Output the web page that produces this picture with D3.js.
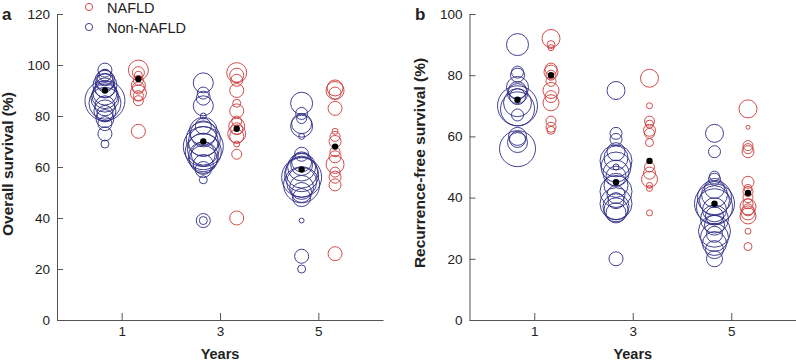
<!DOCTYPE html>
<html>
<head>
<meta charset="utf-8">
<script src="https://cdn.jsdelivr.net/npm/d3@7"></script>
<style>
  body { margin: 0; background: #fff; }
  svg { display: block; font-family: "Liberation Sans", Arial, sans-serif; }
  .tick text { font-size: 13.5px; fill: #222; }
  .axis-title { font-weight: bold; fill: #222; }
</style>
</head>
<body>
<div id="chart"></div>
<script>
// Bubble plots of survival by follow-up year, NAFLD vs non-NAFLD studies

const years = [1, 3, 5];
const osTicks = [0, 20, 40, 60, 80, 100, 120];
const rfsTicks = [0, 20, 40, 60, 80, 100];

// Overall survival (%) per study, one list per year; sizes are study n
const osNonVals = [
  [98, 96, 95, 94, 93, 92, 91, 89, 88, 87, 86, 85, 84, 82, 81, 79, 77, 73, 69],
  [93, 89, 87, 84, 80, 76, 74, 73, 71, 70, 68, 67, 66, 65, 64, 63, 61, 59, 55, 39, 39],
  [85, 81, 79, 77, 76, 72, 65, 62, 61, 60, 58, 57, 56, 54, 53, 52, 50, 48, 39, 25, 20]
];
const osNonN = [
  [49, 36, 64, 100, 81, 144, 100, 144, 169, 196, 400, 256, 100, 121, 64, 81, 49, 49, 16],
  [100, 36, 49, 100, 9, 64, 196, 169, 289, 225, 400, 256, 324, 144, 225, 196, 100, 64, 16, 49, 16],
  [121, 36, 25, 100, 121, 9, 49, 100, 121, 196, 256, 289, 400, 225, 324, 144, 100, 81, 6, 49, 16]
];
const osNafVals = [
  [98, 97, 96, 94, 92, 91, 89, 88, 86, 74],
  [97, 96, 94, 90, 85, 82, 78, 76, 75, 73, 72, 69, 65, 40],
  [91, 90, 89, 83, 74, 72, 70, 66, 64, 61, 58, 56, 53, 26]
];
const osNafN = [
  [100, 36, 16, 25, 49, 36, 64, 25, 25, 49],
  [100, 49, 36, 49, 16, 49, 25, 64, 36, 81, 49, 9, 25, 49],
  [64, 81, 36, 49, 9, 25, 36, 25, 36, 81, 25, 36, 36, 49]
];
const osNonMean = [90, 70, 59];
const osNafMean = [94.5, 75, 68];

// Recurrence-free survival (%)
const rfsNonVals = [
  [90, 81, 80, 76, 75, 74, 73, 71, 70, 69, 67, 60, 59, 58, 56],
  [75, 61, 59, 55, 53, 52, 50, 50, 48, 47, 44, 42, 41, 39, 38, 37, 36, 35, 20],
  [61, 55, 47, 46, 43, 41, 40, 39, 38, 37, 36, 34, 33, 31, 29, 28, 27, 25, 23, 20]
];
const rfsNonN = [
  [121, 36, 49, 121, 81, 100, 64, 196, 400, 289, 36, 81, 64, 100, 324],
  [81, 36, 36, 81, 144, 256, 225, 9, 169, 100, 144, 256, 81, 64, 256, 169, 144, 100, 49],
  [81, 36, 25, 36, 100, 169, 289, 225, 400, 324, 144, 81, 196, 100, 256, 64, 196, 144, 81, 64]
];
const rfsNafVals = [
  [92, 90, 89, 82, 81, 80, 78, 75, 73, 71, 65, 63, 62],
  [79, 70, 65, 64, 62, 61, 58, 50, 48, 46, 44, 43, 35],
  [69, 63, 57, 56, 55, 45, 43, 42, 40, 38, 37, 36, 35, 34, 29, 24]
];
const rfsNafN = [
  [81, 16, 9, 36, 49, 25, 25, 64, 36, 64, 25, 25, 16],
  [81, 9, 25, 16, 36, 25, 16, 25, 36, 64, 9, 9, 9],
  [81, 4, 25, 25, 36, 36, 16, 25, 25, 25, 64, 36, 49, 64, 9, 16]
];
const rfsNonMean = [72, 45, 38];
const rfsNafMean = [80, 52, 41.5];

const legendLabels = ["NAFLD", "Non-NAFLD"];

const colNaf = "#cc3a3a";
const colNon = "#2e2b86";

const W = 796, H = 361;
const svg = d3.select("#chart").append("svg").attr("width", W).attr("height", H);

const rScale = d3.scaleSqrt().domain([0, 400]).range([0, 20]);

function drawPanel(opts) {
  const g = svg.append("g");
  const x = d3.scaleLinear().domain([-0.315, 6.315]).range([opts.left, opts.right]);
  const y = d3.scaleLinear().domain([0, opts.ymax]).range([320, 14]);
  const off = 0.34; // group offset in years

  // bubbles
  const groups = [
    {vals: opts.nonVals, n: opts.nonN, mean: opts.nonMean, dx: -off, col: colNon},
    {vals: opts.nafVals, n: opts.nafN, mean: opts.nafMean, dx: off, col: colNaf}
  ];
  groups.forEach(grp => {
    years.forEach((yr, i) => {
      const pts = grp.vals[i].map((v, j) => ({v: v, n: grp.n[i][j]}));
      g.selectAll(null).data(pts).enter().append("circle")
        .attr("cx", x(yr + grp.dx))
        .attr("cy", d => y(d.v))
        .attr("r", d => rScale(d.n))
        .attr("fill", "none")
        .attr("stroke", grp.col)
        .attr("stroke-width", 0.9);
    });
    g.selectAll(null).data(years).enter().append("circle")
      .attr("cx", d => x(d + grp.dx))
      .attr("cy", (d, i) => y(grp.mean[i]))
      .attr("r", 3.2)
      .attr("fill", "#000");
  });

  // axes
  const yAxis = g.append("g").attr("transform", `translate(${opts.left},0)`)
    .call(d3.axisLeft(y).tickValues(opts.ticks).tickSizeInner(-6).tickSizeOuter(0).tickPadding(7));
  const xAxis = g.append("g").attr("transform", "translate(0,320)")
    .call(d3.axisBottom(x).tickValues(years).tickFormat(d3.format("d"))
      .tickSizeInner(-7).tickSizeOuter(0).tickPadding(6));
  [yAxis, xAxis].forEach(a => {
    a.select(".domain").attr("stroke", "#555").attr("stroke-width", 1);
    a.selectAll(".tick line").attr("stroke", "#555");
    a.selectAll(".tick text").attr("font-family", "Liberation Sans, Arial, sans-serif");
  });

  g.append("text").attr("class", "axis-title")
    .attr("x", x(3))
    .attr("y", 359)
    .attr("text-anchor", "middle")
    .attr("font-size", 14.5)
    .text("Years");

  g.append("text").attr("class", "axis-title")
    .attr("transform", `translate(${opts.ylabX},${opts.ylabY}) rotate(-90)`)
    .attr("text-anchor", "middle")
    .attr("font-size", 15.5)
    .text(opts.ylabel);

  g.append("text").attr("class", "axis-title")
    .attr("x", opts.tagX).attr("y", 20)
    .attr("font-size", 17)
    .text(opts.tag);
}

drawPanel({
  left: 57, right: 383, ymax: 120, ticks: osTicks,
  nonVals: osNonVals, nonN: osNonN, nonMean: osNonMean,
  nafVals: osNafVals, nafN: osNafN, nafMean: osNafMean,
  ylabel: "Overall survival (%)", ylabX: 13, ylabY: 164, tag: "a", tagX: 2
});

drawPanel({
  left: 469.5, right: 796, ymax: 100, ticks: rfsTicks,
  nonVals: rfsNonVals, nonN: rfsNonN, nonMean: rfsNonMean,
  nafVals: rfsNafVals, nafN: rfsNafN, nafMean: rfsNafMean,
  ylabel: "Recurrence-free survival (%)", ylabX: 425, ylabY: 163, tag: "b", tagX: 415
});

// legend
const legend = svg.append("g");
legend.selectAll(null).data(legendLabels).enter().append("circle")
  .attr("cx", 89).attr("cy", (d, i) => 7 + i * 20)
  .attr("r", 3.6).attr("fill", "none")
  .attr("stroke", (d, i) => i === 0 ? colNaf : colNon).attr("stroke-width", 0.9);
legend.selectAll(null).data(legendLabels).enter().append("text")
  .attr("x", 107).attr("y", (d, i) => 12.5 + i * 20)
  .attr("font-size", 14.5).attr("fill", "#222")
  .text(d => d);
</script>
</body>
</html>
